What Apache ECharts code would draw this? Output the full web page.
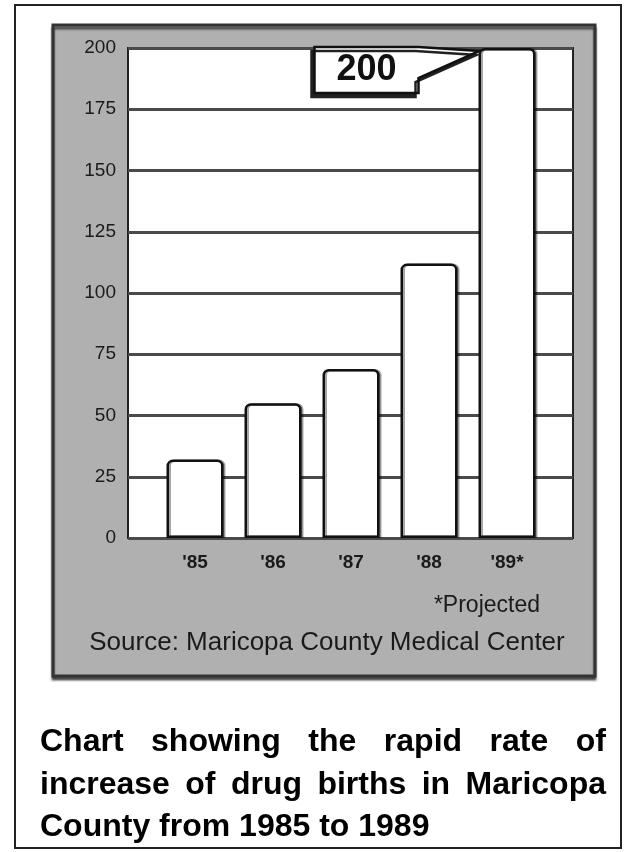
<!DOCTYPE html>
<html>
<head>
<meta charset="utf-8">
<script src="https://cdn.jsdelivr.net/npm/echarts@6/dist/echarts.min.js"></script>
<style>
  html, body { margin: 0; padding: 0; background: #fff; }
  #chart { width: 626px; height: 852px; }
</style>
</head>
<body>
<div id="chart"></div>
<script>
// data
var years = ["'85", "'86", "'87", "'88", "'89*"];
var births = [32, 55, 69, 112, 200];
var yTicks = [0, 25, 50, 75, 100, 125, 150, 175, 200];
var calloutValue = 200;

var captionLines = [
    'Chart showing the rapid rate of',
    'increase of drug births in Maricopa',
    'County from 1985 to 1989'
];

var chart = echarts.init(document.getElementById('chart'));

var captionFont = 'bold 32px "Liberation Sans", Arial, sans-serif';

// lay out justified caption, word by word
function captionGraphics() {
    var ctx = document.createElement('canvas').getContext('2d');
    ctx.font = captionFont;
    var left = 40, right = 606, out = [];
    var ys = [742, 785, 827];
    captionLines.forEach(function (line, i) {
        var words = line.split(' ');
        var last = i === captionLines.length - 1;
        var total = 0;
        words.forEach(function (w) { total += ctx.measureText(w).width; });
        var gap = last ? ctx.measureText(' ').width : (right - left - total) / (words.length - 1);
        var x = left;
        words.forEach(function (w) {
            out.push({
                type: 'text', z: 10, x: x, y: ys[i],
                style: { text: w, font: captionFont, fill: '#000', textVerticalAlign: 'middle' }
            });
            x += ctx.measureText(w).width + gap;
        });
    });
    return out;
}

var plotTop = 48, plotHeight = 490;

chart.setOption({
    animation: false,
    grid: [
        {
            left: 128, top: plotTop, width: 445, height: plotHeight,
            show: true, backgroundColor: '#fff', borderColor: '#222', borderWidth: 2, z: 2
        },
        {
            left: 156, top: plotTop, width: 390, height: plotHeight, z: 3
        }
    ],
    xAxis: [
        { type: 'category', gridIndex: 0, data: years, show: false },
        {
            type: 'category', gridIndex: 1, data: years,
            axisLine: { show: false }, axisTick: { show: false },
            axisLabel: {
                margin: 15, color: '#1a1a1a', fontSize: 19, fontWeight: 'bold',
                fontFamily: '"Liberation Sans", Arial, sans-serif'
            }
        }
    ],
    yAxis: [
        {
            type: 'value', gridIndex: 0, min: 0, max: 200, interval: 25, z: 3,
            axisLine: { show: false }, axisTick: { show: false },
            axisLabel: {
                margin: 12, color: '#1a1a1a', fontSize: 19,
                fontFamily: '"Liberation Sans", Arial, sans-serif',
                customValues: yTicks
            },
            splitLine: { lineStyle: { color: '#4a4a4a', width: 3 } }
        },
        {
            type: 'value', gridIndex: 1, min: 0, max: 200, interval: 25, show: false
        }
    ],
    series: [
        {
            type: 'bar', xAxisIndex: 1, yAxisIndex: 1, data: births,
            barWidth: 57, z: 4,
            itemStyle: {
                color: '#fff', borderColor: '#111', borderWidth: 2.5,
                borderRadius: [5, 5, 0, 0],
                shadowColor: 'rgba(0,0,0,0.35)', shadowOffsetX: 2, shadowBlur: 0
            }
        }
    ],
    graphic: [
        {
            type: 'rect', z: -10,
            shape: { x: 15, y: 5, width: 606, height: 843 },
            style: { fill: '#fff', stroke: '#222', lineWidth: 2 }
        },
        {
            type: 'rect', z: -9,
            shape: { x: 53, y: 25, width: 542, height: 651 },
            style: {
                fill: '#b0b0b0', stroke: '#333', lineWidth: 3,
                shadowColor: 'rgba(0,0,0,0.6)', shadowOffsetY: 3, shadowBlur: 2
            }
        },
        {
            type: 'text', z: 10, x: 540, y: 606,
            style: {
                text: '*Projected', fill: '#1a1a1a', textAlign: 'right', textVerticalAlign: 'middle',
                font: '23px "Liberation Sans", Arial, sans-serif'
            }
        },
        {
            type: 'text', z: 10, x: 327, y: 643,
            style: {
                text: 'Source: Maricopa County Medical Center', fill: '#1a1a1a',
                textAlign: 'center', textVerticalAlign: 'middle',
                font: '26px "Liberation Sans", Arial, sans-serif'
            }
        }
    ].concat(captionGraphics())
});

// callout pointing at the top of the last bar
var tip = chart.convertToPixel({ xAxisIndex: 1, yAxisIndex: 1 }, [years.length - 1, calloutValue]);
var barLeft = tip[0] - 57 / 2, barTop = tip[1];
var L = barLeft - 164, R = barLeft - 60, T = barTop - 1, B = barTop + 45;
chart.setOption({
    graphic: chart.getOption().graphic[0].elements.concat([
        {
            type: 'polygon', z: 20,
            shape: { points: [[L, T], [R, T], [barLeft + 1, barTop + 3], [R, T + 31], [R, B], [L, B]] },
            style: {
                fill: '#fff', stroke: '#111', lineWidth: 2.5,
                shadowColor: '#222', shadowOffsetX: -3, shadowOffsetY: 4, shadowBlur: 0
            }
        },
        {
            type: 'text', z: 21, x: (L + R) / 2, y: (T + B) / 2,
            style: {
                text: String(calloutValue), fill: '#111', textAlign: 'center', textVerticalAlign: 'middle',
                font: 'bold 36px "Liberation Sans", Arial, sans-serif'
            }
        }
    ])
});
</script>
</body>
</html>
